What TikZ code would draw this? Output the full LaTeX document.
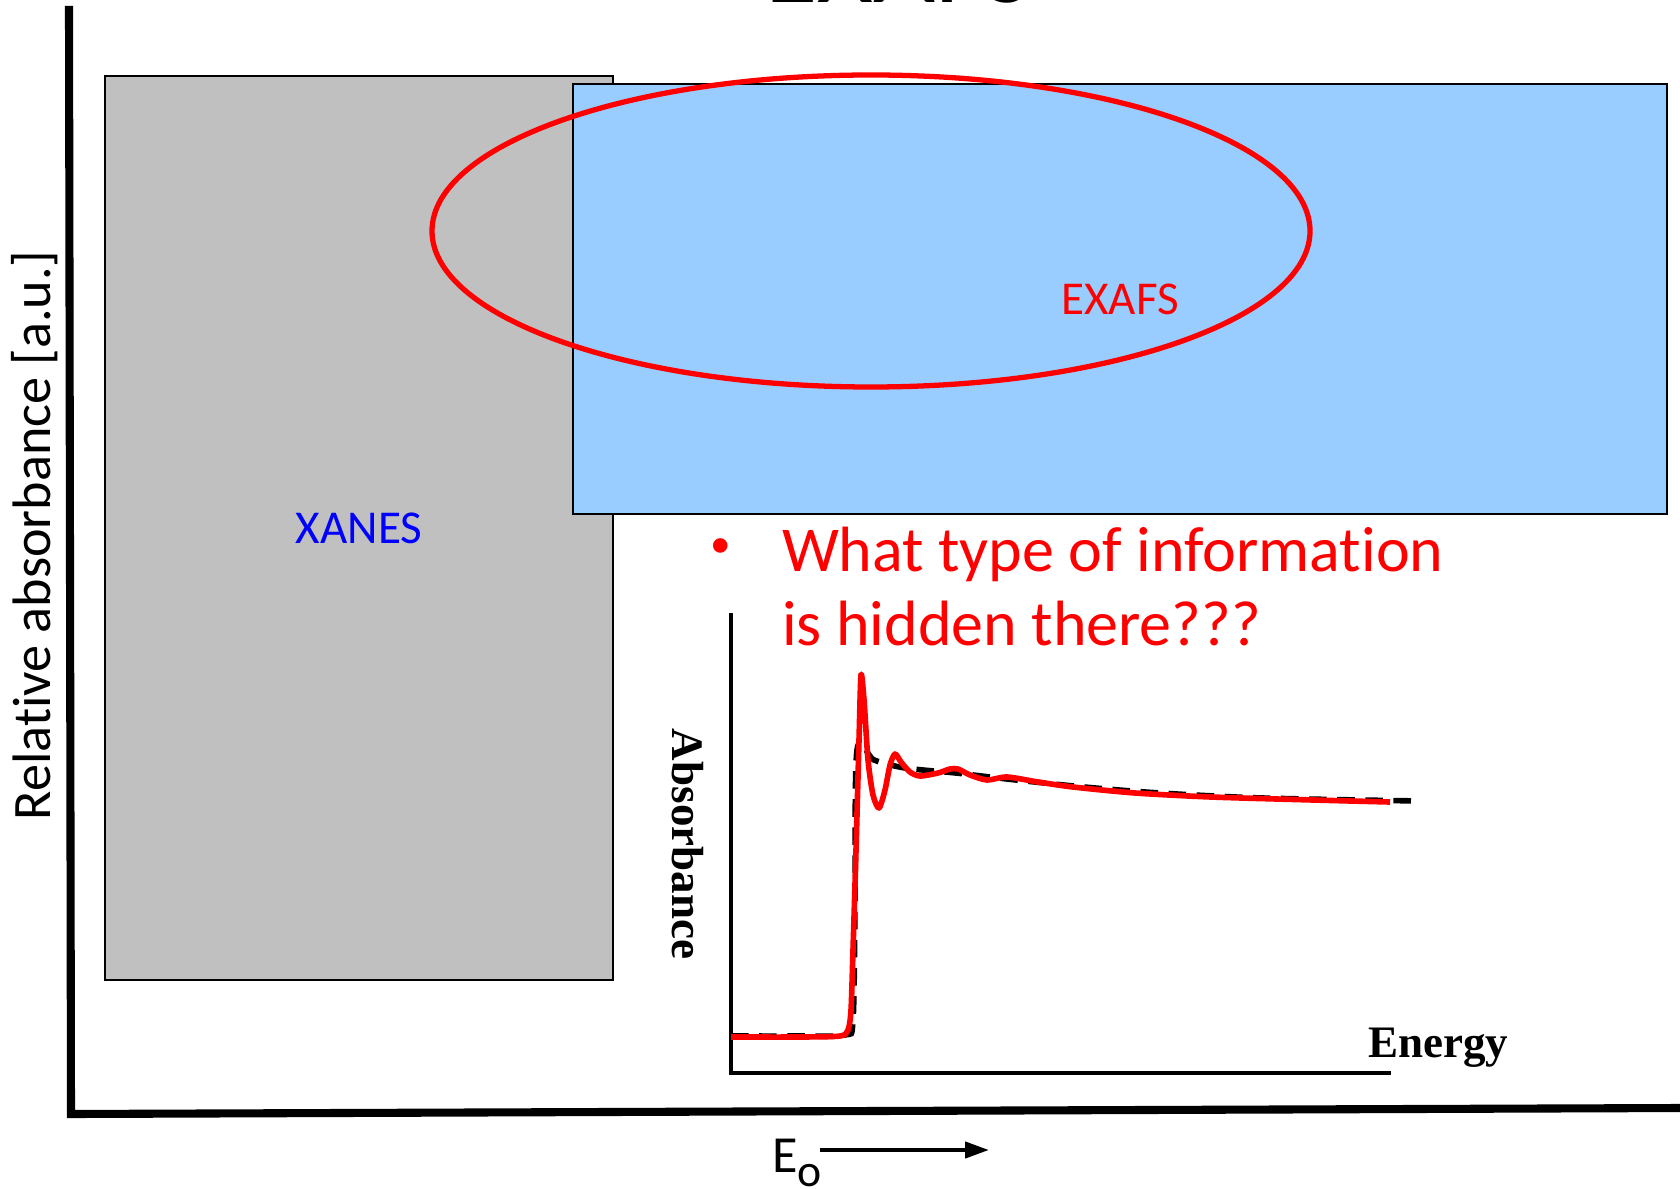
\documentclass[tikz,border=0pt]{standalone}
\usepackage{fontspec}
\setmainfont{Carlito}[Ligatures=NoCommon]
\newfontfamily\timesfont{Liberation Serif}
\usetikzlibrary{arrows.meta}
\definecolor{xanesgray}{HTML}{C0C0C0}
\definecolor{exafsblue}{HTML}{99CCFF}
\definecolor{pptred}{HTML}{FF0000}
\definecolor{pptblue}{HTML}{0000FF}

\begin{document}
\begin{tikzpicture}[x=0.01cm, y=-0.01cm,
    every node/.style = {inner sep=0pt, outer sep=0pt},
    region/.style = {shape=rectangle, draw, line width=0.5pt,
      font=\fontsize{13.4}{16}\selectfont},
    mainaxis/.style = {line width=2.3pt, line join=miter},
    insetaxis/.style = {line width=1.1pt},
    spectrum/.style = {pptred, line width=1.6pt, line join=round},
    atomfit/.style = {black, line width=1.6pt, dash pattern=on 5pt off 3pt},
    plotlabel/.style = {font=\timesfont\bfseries\fontsize{12.8}{15}\selectfont}]
    \useasboundingbox (0,0) rectangle (1680,1189);
    % title, cut off by the top edge
    \node[anchor=base, font=\fontsize{30.5}{36}\selectfont] (title) at (899,3) {EXAFS};
    % the two regions
    \node[region, fill=xanesgray, minimum width=5.08cm, minimum height=9.03cm,
      text=pptblue] (xanes) at (359,528) {XANES};
    \node[region, fill=exafsblue, minimum width=10.94cm, minimum height=4.30cm,
      text=pptred] (exafs) at (1120,299) {EXAFS};
    \draw[pptred, line width=1.5pt] (871,231) ellipse [x radius=439, y radius=156];
    % main axes
    \draw[mainaxis] (69,6) -- (71,1114) -- (1680,1108);
    \node[anchor=base west, rotate=90, font=\fontsize{15.4}{18}\selectfont] (ylabel)
      at (50,820) {Relative absorbance [a.u.]};
    \node[anchor=base west, font=\fontsize{14.8}{18}\selectfont] (eo)
      at (772,1172) {E\raisebox{-0.27em}{\fontsize{13}{15}\selectfont o}};
    \coordinate (eostart) at (820,1150);
    \coordinate (eoend) at (989,1150);
    \draw[line width=1.2pt, -{Triangle[length=0.24cm, width=0.16cm]}] (eostart) -- (eoend);
    % question
    \node[text=pptred, font=\fontsize{11.7}{14}\selectfont] (bullet) at (721,548) {•};
    \node[anchor=base west, align=left, text=pptred,
      font=\fontsize{18.2}{21.3}\selectfont] (question)
      at (782,646) {What type of information\\is hidden there???};
    % inset spectrum
    \draw[insetaxis] (731,613) -- (731,1073) -- (1391,1073);
    \node[plotlabel, anchor=base west] (energy) at (1368,1057) {Energy};
    \node[plotlabel, rotate=-90] (absorb) at (688,844) {Absorbance};
    \draw[atomfit] plot[smooth, tension=0.5] coordinates {(731,1036) (800,1036)
      (845,1035) (853,1020) (855,900) (857,750) (874,760) (905,768) (956,773)
      (1007,779) (1084,787) (1160,793) (1262,798) (1420,801)};
    \draw[spectrum] plot[smooth, tension=0.45] coordinates {(731,1037) (800,1037)
      (840,1036) (848,1030) (851,1010) (853,950) (856,850) (859,740) (861,675)
      (864,700) (868,760) (873,795) (879,808) (885,790) (890,765) (895,754)
      (901,762) (910,772) (920,776) (938,773) (950,769) (958,769) (970,775)
      (987,780) (1007,777) (1038,782) (1073,787) (1135,793) (1211,797)
      (1313,800) (1390,802)};
\end{tikzpicture}
\end{document}
